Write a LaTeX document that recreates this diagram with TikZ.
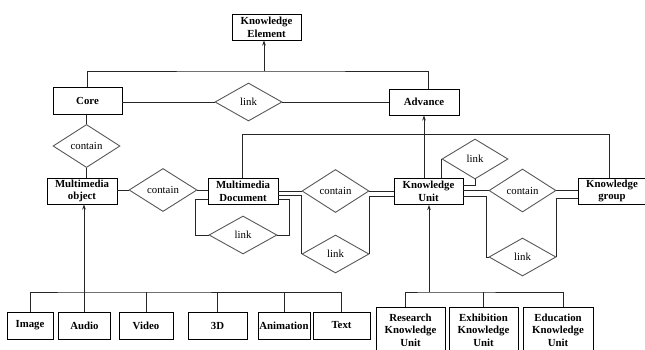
\documentclass[tikz,border=0pt]{standalone}
\usepackage{fontspec}
\setmainfont{Liberation Serif}
\usetikzlibrary{shapes.geometric,arrows.meta,calc}

\tikzset{
  ent/.style={draw=black, line width=0.9pt, fill=white, inner sep=0pt, align=center,
    font=\fontsize{10.8}{12.7}\selectfont\bfseries, minimum height=26pt},
  rel/.style={draw=black!65, line width=0.9pt, diamond, inner sep=1pt, fill=white,
    font=\fontsize{10.8}{12.7}\selectfont, minimum width=67pt, minimum height=38pt},
  conn/.style={draw=black!85, line width=0.9pt},
  arr/.style={conn, -{Stealth[length=5pt,width=3.5pt]}},
}

\begin{document}
\begin{tikzpicture}[x=1pt, y=-1pt]
\useasboundingbox (0,0) rectangle (645,349);
\fill[white] (0,0) rectangle (645,349);
\clip (0,0) rectangle (645,349);

% entities
\node[ent, minimum width=69pt] (KE) at (266.5,27) {Knowledge\\Element};
\node[ent, minimum width=69pt, minimum height=27pt] (Core) at (87.5,101) {Core};
\node[ent, minimum width=70pt] (Adv) at (424,102) {Advance};
\node[ent, minimum width=70pt] (MO) at (82,191) {Multimedia\\object};
\node[ent, minimum width=70pt] (MD) at (243,191) {Multimedia\\Document};
\node[ent, minimum width=69pt] (KU) at (428.5,191.5) {Knowledge\\Unit};
\node[ent, minimum width=68pt] (KG) at (612,191) {Knowledge\\group};

% relations
\node[rel] (linkTop) at (248.5,102) {link};
\node[rel] (containL) at (86.5,146) {contain};
\node[rel, minimum width=68pt] (containM) at (163,190) {contain};
\node[rel, minimum width=68pt] (linkMD) at (243,235) {link};
\node[rel, minimum height=39pt] (containC) at (335.5,191) {contain};
\node[rel] (linkC) at (335.5,254) {link};
\node[rel, minimum width=66pt, minimum height=40pt] (linkKU) at (475,159) {link};
\node[rel, minimum height=39pt] (containR) at (522.5,190.5) {contain};
\node[rel] (linkR) at (522.5,257) {link};

% media types
\node[ent, minimum width=46pt, minimum height=27pt] (Img) at (30,325.5) {Image};
\node[ent, minimum width=52pt, minimum height=27pt] (Aud) at (84.5,325.5) {Audio};
\node[ent, minimum width=54pt, minimum height=27pt] (Vid) at (146,325.5) {Video};
\node[ent, minimum width=59pt, minimum height=27pt] (ThreeD) at (217.5,325.5) {3D};
\node[ent, minimum width=52pt, minimum height=27pt] (Anim) at (284,325.5) {Animation};
\node[ent, minimum width=57pt, minimum height=27pt] (Txt) at (341.5,325.5) {Text};

% knowledge unit types
\node[ent, minimum width=69pt, minimum height=46pt] (Res) at (410.5,330) {Research\\Knowledge\\Unit};
\node[ent, minimum width=69pt, minimum height=46pt] (Exh) at (483.5,330) {Exhibition\\Knowledge\\Unit};
\node[ent, minimum width=70pt, minimum height=46pt] (Edu) at (558,330) {Education\\Knowledge\\Unit};

% top bus to Knowledge Element
\coordinate (bus) at (264,71);
\draw[conn] (Core.north) |- (bus) -| ($(Adv.north)+(4,0)$);
\draw[arr] (bus) -- (KE.south -| bus);

% Core -- link -- Advance
\draw[conn] (Core.east |- linkTop.west) -- (linkTop.west);
\draw[conn] (linkTop.east) -- (Adv.west);

% Core -- contain -- Multimedia object
\draw[conn] (Core.south -| containL.north) -- (containL.north);
\draw[conn] (containL.south) -- (containL.south |- MO.north);

% Multimedia object -- contain -- Multimedia Document
\draw[conn] (MO.east |- containM.west) -- (containM.west);
\draw[conn] (containM.east) -- (MD.west |- containM.east);

% Multimedia Document up to Knowledge group
\coordinate (topR) at (609,134);
\draw[conn] (MD.north -| 242,0) |- (topR) -- (topR |- KG.north);

% Multimedia Document self link
\draw[conn] ($(MD.west)+(0,8)$) -| ($(linkMD.west)+(-13,0)$) -- (linkMD.west);
\draw[conn] ($(MD.east)+(0,8)$) -| ($(linkMD.east)+(12,0)$) -- (linkMD.east);

% Multimedia Document -- contain / link -- Knowledge Unit
\draw[conn] (MD.east |- containC.west) -- (containC.west);
\draw[conn] (containC.east) -- (KU.west |- containC.east);
\draw[conn] ($(MD.east)+(0,4)$) -| (linkC.west);
\draw[conn] (linkC.east) |- ($(KU.west)+(0,4.5)$);

% Knowledge Unit up to Advance
\draw[arr] (KU.north -| Adv.south) -- (Adv.south);

% Knowledge Unit self link
\draw[conn] (linkKU.west) -- (linkKU.west |- KU.north);
\draw[conn] (linkKU.south) |- ($(KU.east)+(0,-6.5)$);

% Knowledge Unit -- contain / link -- Knowledge group
\draw[conn] (KU.east |- containR.west) -- (containR.west);
\draw[conn] (containR.east) -- (KG.west |- containR.east);
\draw[conn] ($(KU.east)+(0,4.5)$) -| ($(linkR.west)+(-2,0)$) -- (linkR.west);
\draw[conn] (linkR.east) |- ($(KG.west)+(0,7)$);

% media types to Multimedia object
\coordinate (mb) at (84,292);
\draw[conn] (Img.north) |- (mb) -| (Txt.north);
\foreach \n in {Aud,Vid,ThreeD,Anim} \draw[conn] (\n.north) -- (\n.north |- mb);
\draw[arr] (mb) -- (MO.south -| mb);

% unit types to Knowledge Unit
\coordinate (kb) at (429,292);
\draw[conn] ($(Res.north)+(-5,0)$) |- (kb) -| ($(Edu.north)+(5,0)$);
\draw[conn] (Exh.north) -- (Exh.north |- kb);
\draw[arr] (kb) -- (KU.south -| kb);
\end{tikzpicture}
\end{document}
